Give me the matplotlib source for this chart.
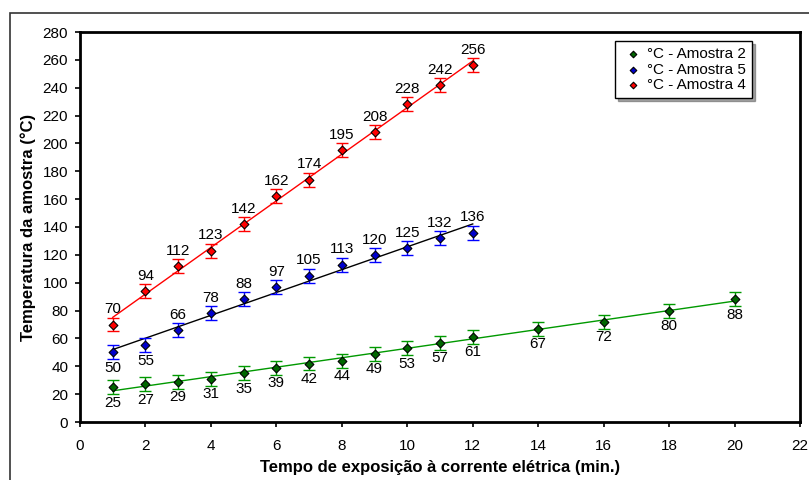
import numpy as np
import matplotlib
matplotlib.use("Agg")
import matplotlib.pyplot as plt
from matplotlib.patches import Rectangle

plt.rcParams['font.family'] = ['Liberation Sans', 'DejaVu Sans']

x_a2 = [1, 2, 3, 4, 5, 6, 7, 8, 9, 10, 11, 12, 14, 16, 18, 20]
y_a2 = [25, 27, 29, 31, 35, 39, 42, 44, 49, 53, 57, 61, 67, 72, 80, 88]
x_a5 = [1, 2, 3, 4, 5, 6, 7, 8, 9, 10, 11, 12]
y_a5 = [50, 55, 66, 78, 88, 97, 105, 113, 120, 125, 132, 136]
x_a4 = [1, 2, 3, 4, 5, 6, 7, 8, 9, 10, 11, 12]
y_a4 = [70, 94, 112, 123, 142, 162, 174, 195, 208, 228, 242, 256]
err = 5

names = ['°C - Amostra 2', '°C - Amostra 5', '°C - Amostra 4']
colors = ['#006600', '#0000CC', '#FF0000']
err_colors = ['#009900', '#0000FF', '#FF0000']
line_colors = ['#009900', '#000000', '#FF0000']

fig = plt.figure(figsize=(8.09, 4.80), dpi=100)
fig.patches.append(Rectangle((10/809, -0.1), 1.2, (480-13)/480 + 0.1, transform=fig.transFigure,
                             fill=False, edgecolor='#333333', linewidth=1.2))
ax = fig.add_axes([80/809, 58/480, 720/809, 390/480])

series = [(x_a2, y_a2), (x_a5, y_a5), (x_a4, y_a4)]
handles = []
for i, (xs, ys) in enumerate(series):
    xs = np.array(xs, float); ys = np.array(ys, float)
    m, b = np.polyfit(xs, ys, 1)
    xl = np.array([xs.min(), xs.max()])
    ax.plot(xl, m*xl + b, color=line_colors[i], lw=1.0, zorder=2)
    ax.errorbar(xs, ys, yerr=err, fmt='none', ecolor=err_colors[i], elinewidth=1.0,
                capsize=4, capthick=1.0, zorder=3)
    h = ax.scatter(xs, ys, marker='D', s=20, facecolor=colors[i], edgecolor='black',
                   linewidth=0.8, zorder=4, label=names[i])
    handles.append(h)
    for j, (xv, yv) in enumerate(zip(xs, ys)):
        below = (i == 0) or (i == 1 and j < 2)
        if below:
            ax.annotate(f'{int(yv)}', (xv, yv), xytext=(0, -6), textcoords='offset points',
                        ha='center', va='top', fontsize=11)
        else:
            ax.annotate(f'{int(yv)}', (xv, yv), xytext=(0, 6), textcoords='offset points',
                        ha='center', va='bottom', fontsize=11)

ax.set_xlim(0, 22)
ax.set_ylim(0, 280)
ax.set_xticks(np.arange(0, 23, 2))
ax.set_yticks(np.arange(0, 281, 20))
ax.tick_params(axis='both', labelsize=11, direction='out', length=3.5, width=1.2)
ax.tick_params(axis='x', pad=9)
ax.tick_params(axis='y', pad=5)
for s in ax.spines.values():
    s.set_linewidth(2)
ax.set_xlabel('Tempo de exposição à corrente elétrica (min.)', fontsize=12, fontweight='bold', labelpad=5)
ax.set_ylabel('Temperatura da amostra (°C)', fontsize=12, fontweight='bold', labelpad=5)

leg = ax.legend(handles=handles, loc='upper right', bbox_to_anchor=(752/809, 1 - 41/480),
                bbox_transform=fig.transFigure, borderaxespad=0, fontsize=11, frameon=True,
                fancybox=False, shadow=True, handletextpad=0.1, borderpad=0.4, labelspacing=0.1,
                handlelength=1.6, markerscale=0.75)
leg.get_frame().set_edgecolor('black')
leg.get_frame().set_linewidth(1.0)

fig.savefig('out.png', dpi=100)
